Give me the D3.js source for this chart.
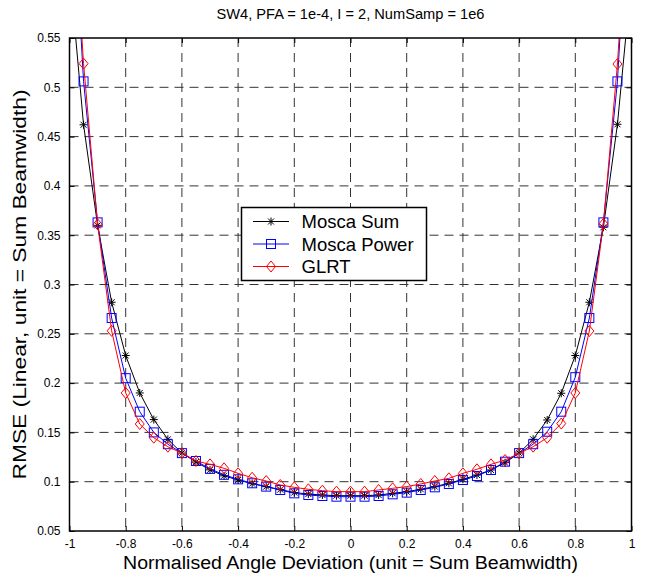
<!DOCTYPE html>
<html>
<head>
<meta charset="utf-8">
<script src="https://cdn.jsdelivr.net/npm/d3@7"></script>
<style>
  body { margin: 0; background: #fff; }
  text { font-family: Arial, "Liberation Sans", sans-serif; fill: #000; }
</style>
</head>
<body>
<svg id="chart" width="647" height="576"></svg>
<script>
// angle deviation samples
var angles = [-1, -0.95, -0.9, -0.85, -0.8, -0.75, -0.7, -0.65, -0.6, -0.55, -0.5,
  -0.45, -0.4, -0.35, -0.3, -0.25, -0.2, -0.15, -0.1, -0.05, 0,
  0.05, 0.1, 0.15, 0.2, 0.25, 0.3, 0.35, 0.4, 0.45, 0.5,
  0.55, 0.6, 0.65, 0.7, 0.75, 0.8, 0.85, 0.9, 0.95, 1];

var moscaSum = [0.62, 0.462, 0.360, 0.282, 0.228, 0.190, 0.163, 0.143, 0.129, 0.120, 0.112,
  0.106, 0.1017, 0.098, 0.095, 0.092, 0.089, 0.0875, 0.0865, 0.0858, 0.0858,
  0.0858, 0.0865, 0.0882, 0.0899, 0.0923, 0.095, 0.0984, 0.1024, 0.1068, 0.1119,
  0.1193, 0.129, 0.143, 0.1626, 0.1897, 0.228, 0.282, 0.358, 0.4625, 0.612];

var moscaPower = [0.76, 0.506, 0.363, 0.266, 0.205, 0.171, 0.150, 0.138, 0.129, 0.121, 0.113,
  0.107, 0.1024, 0.0984, 0.095, 0.0916, 0.0882, 0.0865, 0.0855, 0.0848, 0.0848,
  0.0848, 0.0855, 0.0872, 0.0889, 0.0916, 0.0943, 0.0977, 0.1017, 0.1058, 0.1119,
  0.1203, 0.129, 0.138, 0.1507, 0.171, 0.206, 0.266, 0.363, 0.506, 0.76];

var glrt = [0.75, 0.524, 0.361, 0.253, 0.190, 0.1585, 0.1446, 0.1355, 0.129, 0.121, 0.1176,
  0.1136, 0.1085, 0.104, 0.1007, 0.0967, 0.0943, 0.0923, 0.0909, 0.0899, 0.0899,
  0.0899, 0.0916, 0.0933, 0.095, 0.0977, 0.1007, 0.1034, 0.1085, 0.1126, 0.1176,
  0.122, 0.1288, 0.1355, 0.1446, 0.159, 0.190, 0.2528, 0.3614, 0.5236, 0.75];

var xTicks = [-1, -0.8, -0.6, -0.4, -0.2, 0, 0.2, 0.4, 0.6, 0.8, 1];
var yTicks = [0.05, 0.1, 0.15, 0.2, 0.25, 0.3, 0.35, 0.4, 0.45, 0.5, 0.55];

var seriesNames = ["Mosca Sum", "Mosca Power", "GLRT"];
var seriesColors = ["#000000", "#0000ff", "#ff0000"];
var seriesMarkers = ["star", "square", "diamond"];
var seriesValues = [moscaSum, moscaPower, glrt];

var pLeft = 69.5, pRight = 631.5, pTop = 38, pBottom = 531;

var svg = d3.select("#chart");
var x = d3.scaleLinear().domain([-1, 1]).range([pLeft, pRight]);
var y = d3.scaleLinear().domain([0.05, 0.55]).range([pBottom, pTop]);

svg.append("defs").append("clipPath").attr("id", "plotClip")
  .append("rect")
  .attr("x", pLeft).attr("y", pTop)
  .attr("width", pRight - pLeft).attr("height", pBottom - pTop);

// grid
var grid = svg.append("g").attr("class", "grid");
grid.selectAll(".vgrid").data(xTicks.slice(1, -1)).enter().append("line")
  .attr("x1", function(d) { return x(d); }).attr("x2", function(d) { return x(d); })
  .attr("y1", pTop).attr("y2", pBottom)
  .attr("stroke", "#333").attr("stroke-width", 1).attr("stroke-dasharray", "9,6");
grid.selectAll(".hgrid").data(yTicks.slice(1, -1)).enter().append("line")
  .attr("y1", function(d) { return y(d); }).attr("y2", function(d) { return y(d); })
  .attr("x1", pLeft).attr("x2", pRight)
  .attr("stroke", "#333").attr("stroke-width", 1).attr("stroke-dasharray", "9,6");

// axes (ticks pointing inward)
function fmt(d) { return String(d); }
svg.append("g").attr("transform", "translate(0," + pBottom + ")")
  .call(d3.axisBottom(x).tickValues(xTicks).tickSize(-5).tickPadding(8).tickFormat(fmt))
  .call(function(g) { g.select(".domain").remove(); })
  .selectAll("text").style("font-size", "12px").style("font-family", "Arial, 'Liberation Sans', sans-serif");
svg.append("g").attr("transform", "translate(0," + pTop + ")")
  .call(d3.axisTop(x).tickValues(xTicks).tickSize(-5).tickFormat(""))
  .call(function(g) { g.select(".domain").remove(); });
svg.append("g").attr("transform", "translate(" + pLeft + ",0)")
  .call(d3.axisLeft(y).tickValues(yTicks).tickSize(-5).tickPadding(9).tickFormat(fmt))
  .call(function(g) { g.select(".domain").remove(); })
  .selectAll("text").style("font-size", "12px").style("font-family", "Arial, 'Liberation Sans', sans-serif");
svg.append("g").attr("transform", "translate(" + pRight + ",0)")
  .call(d3.axisRight(y).tickValues(yTicks).tickSize(-5).tickFormat(""))
  .call(function(g) { g.select(".domain").remove(); });

// marker shapes
function drawMarker(g, type, cx, cy, color) {
  if (type == "star") {
    var r = 4;
    var d = "M" + (cx - r) + "," + cy + "L" + (cx + r) + "," + cy +
      "M" + cx + "," + (cy - r) + "L" + cx + "," + (cy + r) +
      "M" + (cx - 3) + "," + (cy - 3) + "L" + (cx + 3) + "," + (cy + 3) +
      "M" + (cx - 3) + "," + (cy + 3) + "L" + (cx + 3) + "," + (cy - 3);
    g.append("path").attr("d", d).attr("stroke", color).attr("stroke-width", 1).attr("fill", "none");
  } else if (type == "square") {
    g.append("rect").attr("x", cx - 4.5).attr("y", cy - 4.5)
      .attr("width", 9).attr("height", 9)
      .attr("stroke", color).attr("stroke-width", 1).attr("fill", "none");
  } else {
    var d2 = "M" + cx + "," + (cy - 5.5) + "L" + (cx + 4.5) + "," + cy +
      "L" + cx + "," + (cy + 5.5) + "L" + (cx - 4.5) + "," + cy + "Z";
    g.append("path").attr("d", d2).attr("stroke", color).attr("stroke-width", 1).attr("fill", "none");
  }
}

// series
var plot = svg.append("g").attr("clip-path", "url(#plotClip)");
var line = d3.line()
  .x(function(d, i) { return x(angles[i]); })
  .y(function(d) { return y(d); });

seriesValues.forEach(function(vals, s) {
  plot.append("path")
    .attr("d", line(vals))
    .attr("fill", "none")
    .attr("stroke", seriesColors[s])
    .attr("stroke-width", 1);
  var mg = plot.append("g");
  vals.forEach(function(v, i) {
    drawMarker(mg, seriesMarkers[s], x(angles[i]), y(v), seriesColors[s]);
  });
});

// frame
svg.append("rect")
  .attr("x", pLeft).attr("y", pTop)
  .attr("width", pRight - pLeft).attr("height", pBottom - pTop)
  .attr("fill", "none").attr("stroke", "#000").attr("stroke-width", 1.5);

// title and labels
svg.append("text")
  .attr("x", (pLeft + pRight) / 2).attr("y", 19)
  .attr("text-anchor", "middle").style("font-size", "14.5px")
  .attr("textLength", 268).attr("lengthAdjust", "spacingAndGlyphs")
  .text("SW4, PFA = 1e-4, I = 2, NumSamp = 1e6");
svg.append("text")
  .attr("x", (pLeft + pRight) / 2).attr("y", 569)
  .attr("text-anchor", "middle").style("font-size", "18px")
  .attr("textLength", 455).attr("lengthAdjust", "spacingAndGlyphs")
  .text("Normalised Angle Deviation (unit = Sum Beamwidth)");
svg.append("text")
  .attr("transform", "translate(26," + ((pTop + pBottom) / 2) + ") rotate(-90)")
  .attr("text-anchor", "middle").style("font-size", "18px")
  .attr("textLength", 390).attr("lengthAdjust", "spacingAndGlyphs")
  .text("RMSE (Linear, unit = Sum Beamwidth)");

// legend
var lg = svg.append("g");
lg.append("rect")
  .attr("x", 241.5).attr("y", 207.5).attr("width", 185).attr("height", 73)
  .attr("fill", "#fff").attr("stroke", "#000").attr("stroke-width", 1.5);
seriesNames.forEach(function(name, s) {
  var ly = 221.5 + s * 22.5;
  lg.append("line").attr("x1", 253).attr("x2", 289).attr("y1", ly).attr("y2", ly)
    .attr("stroke", seriesColors[s]).attr("stroke-width", 1);
  drawMarker(lg, seriesMarkers[s], 271, ly, seriesColors[s]);
  lg.append("text").attr("x", 301.5).attr("y", ly + 6.5)
    .style("font-size", "18.5px").text(name);
});
</script>
</body>
</html>
